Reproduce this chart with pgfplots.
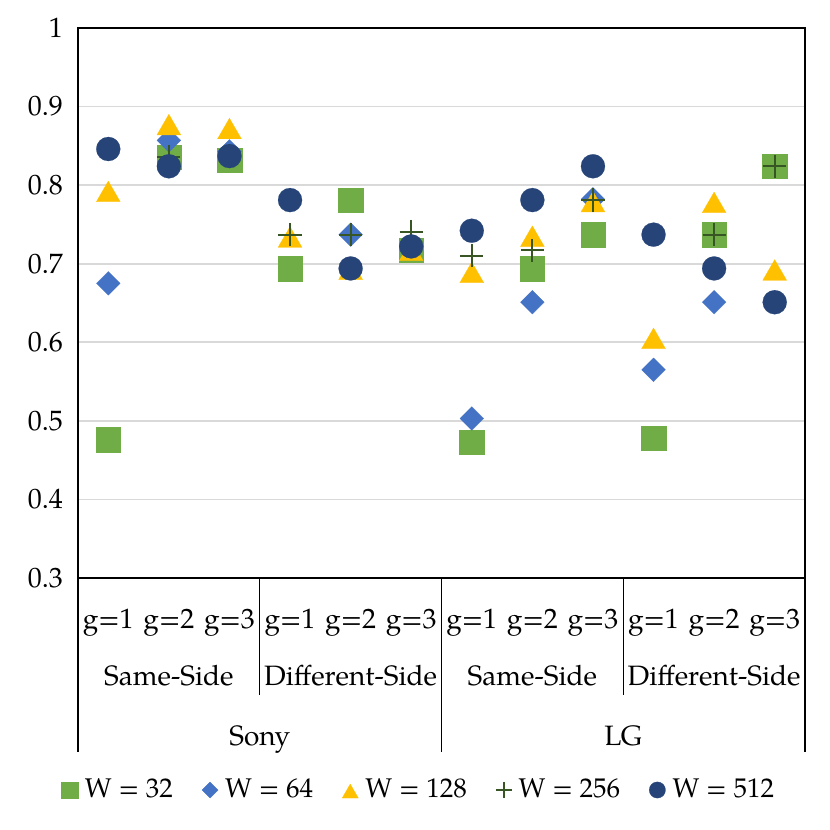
\documentclass[border=0pt]{standalone}
\usepackage{fontspec}
\setmainfont{TeX Gyre Pagella}
\usepackage{pgfplots}
\pgfplotsset{compat=1.18}
\definecolor{CGreen}{HTML}{70AD47}
\definecolor{CBlue}{HTML}{4472C4}
\definecolor{CGold}{HTML}{FFC000}
\definecolor{CPlus}{HTML}{375623}
\definecolor{CNavy}{HTML}{264478}
\definecolor{GridGray}{HTML}{D9D9D9}
\newcommand{\lbl}{\fontsize{14}{16}\selectfont}

\begin{document}
\begin{tikzpicture}
\begin{axis}[
  at={(0,0)}, anchor=south west,
  scale only axis, width=363.5pt, height=275pt,
  xmin=0.5, xmax=12.5, ymin=0.3, ymax=1,
  xtick=\empty, ytick={0.3,0.4,0.5,0.6,0.7,0.8,0.9,1},
  ymajorgrids, grid style={color=GridGray, line width=0.85pt},
  axis line style={black, line width=1.4pt},
  major tick length=0pt,
  yticklabel style={font=\lbl, /pgf/number format/assume math mode=true, xshift=-4pt},
  clip=false,
  legend columns=5,
  legend style={at={(axis description cs:0.47,0)}, anchor=center, yshift=-106pt,
    draw=none, fill=none, font=\fontsize{13.5}{15}\selectfont,
    /tikz/every odd column/.append style={column sep=1.5pt},
    /tikz/every even column/.append style={column sep=12.5pt}},
  legend image code/.code={\draw[mark repeat=2,mark phase=2,#1] plot coordinates {(0pt,0pt)(5pt,0pt)(10pt,0pt)};},
  legend image post style={/tikz/every mark/.append style={scale=0.68}},
]
% W = 32
\addplot[only marks, color=CGreen, mark=square*, mark size=6.1pt, mark options={draw=CGreen, fill=CGreen, line width=0.1pt}] coordinates {
  (1,0.476) (2,0.836) (3,0.832) (4,0.694) (5,0.781) (6,0.717)
  (7,0.473) (8,0.694) (9,0.737) (10,0.478) (11,0.737) (12,0.824)};
\addlegendentry{W = 32}
% W = 64
\addplot[only marks, color=CBlue, mark=square*, mark size=4.2pt, mark options={draw=CBlue, fill=CBlue, line width=0.1pt, rotate=45}] coordinates {
  (1,0.675) (2,0.857) (3,0.843) (4,0.781) (5,0.737) (6,0.722)
  (7,0.503) (8,0.651) (9,0.782) (10,0.565) (11,0.651) (12,0.651)};
\addlegendentry{W = 64}
% W = 128
\addplot[only marks, color=CGold, mark=triangle*, mark size=6.9pt, mark options={draw=CGold, fill=CGold, line width=0.1pt, yshift=-1.7pt}] coordinates {
  (1,0.792) (2,0.877) (3,0.872) (4,0.734) (5,0.693) (6,0.717)
  (7,0.689) (8,0.735) (9,0.779) (10,0.605) (11,0.778) (12,0.692)};
\addlegendentry{W = 128}
% W = 256
\addplot[only marks, color=CPlus, mark=+, mark size=5.8pt, mark options={draw=CPlus, line width=1pt}] coordinates {
  (1,0.845) (2,0.836) (3,0.837) (4,0.737) (5,0.737) (6,0.741)
  (7,0.710) (8,0.717) (9,0.781) (10,0.737) (11,0.737) (12,0.824)};
\addlegendentry{W = 256}
% W = 512
\addplot[only marks, color=CNavy, mark=*, mark size=6pt, mark options={draw=CNavy, fill=CNavy, line width=0.1pt}] coordinates {
  (1,0.846) (2,0.824) (3,0.837) (4,0.781) (5,0.694) (6,0.722)
  (7,0.742) (8,0.781) (9,0.824) (10,0.737) (11,0.694) (12,0.651)};
\addlegendentry{W = 512}

% category axis
\draw[black, line width=0.6pt] (axis cs:0.5,0.3) -- ([yshift=-87pt]axis cs:0.5,0.3);
\draw[black, line width=0.6pt] (axis cs:6.5,0.3) -- ([yshift=-87pt]axis cs:6.5,0.3);
\draw[black, line width=0.6pt] (axis cs:12.5,0.3) -- ([yshift=-87pt]axis cs:12.5,0.3);
\draw[black, line width=0.6pt] (axis cs:3.5,0.3) -- ([yshift=-58.5pt]axis cs:3.5,0.3);
\draw[black, line width=0.6pt] (axis cs:9.5,0.3) -- ([yshift=-58.5pt]axis cs:9.5,0.3);
\node[anchor=base, font=\lbl] at ([yshift=-25pt]axis cs:1,0.3) {g=1};
\node[anchor=base, font=\lbl] at ([yshift=-25pt]axis cs:2,0.3) {g=2};
\node[anchor=base, font=\lbl] at ([yshift=-25pt]axis cs:3,0.3) {g=3};
\node[anchor=base, font=\lbl] at ([yshift=-25pt]axis cs:4,0.3) {g=1};
\node[anchor=base, font=\lbl] at ([yshift=-25pt]axis cs:5,0.3) {g=2};
\node[anchor=base, font=\lbl] at ([yshift=-25pt]axis cs:6,0.3) {g=3};
\node[anchor=base, font=\lbl] at ([yshift=-25pt]axis cs:7,0.3) {g=1};
\node[anchor=base, font=\lbl] at ([yshift=-25pt]axis cs:8,0.3) {g=2};
\node[anchor=base, font=\lbl] at ([yshift=-25pt]axis cs:9,0.3) {g=3};
\node[anchor=base, font=\lbl] at ([yshift=-25pt]axis cs:10,0.3) {g=1};
\node[anchor=base, font=\lbl] at ([yshift=-25pt]axis cs:11,0.3) {g=2};
\node[anchor=base, font=\lbl] at ([yshift=-25pt]axis cs:12,0.3) {g=3};
\node[anchor=base, font=\lbl] at ([yshift=-53.5pt]axis cs:2,0.3) {Same-Side};
\node[anchor=base, font=\lbl] at ([yshift=-53.5pt]axis cs:5,0.3) {Different-Side};
\node[anchor=base, font=\lbl] at ([yshift=-53.5pt]axis cs:8,0.3) {Same-Side};
\node[anchor=base, font=\lbl] at ([yshift=-53.5pt]axis cs:11,0.3) {Different-Side};
\node[anchor=base, font=\lbl] at ([yshift=-83.5pt]axis cs:3.5,0.3) {Sony};
\node[anchor=base, font=\lbl] at ([yshift=-83.5pt]axis cs:9.5,0.3) {LG};
\end{axis}
\pgfresetboundingbox
\path[use as bounding box] (-39pt,-126pt) rectangle (376pt,289pt);
\end{tikzpicture}
\end{document}
